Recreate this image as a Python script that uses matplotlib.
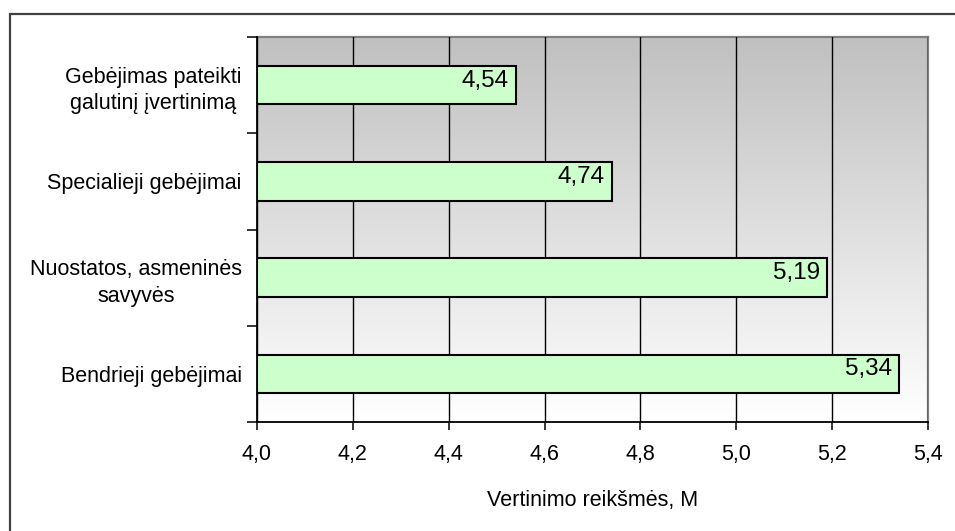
import numpy as np
import matplotlib
matplotlib.use('Agg')
import matplotlib.pyplot as plt
import matplotlib.ticker as mtick
from matplotlib.colors import LinearSegmentedColormap
from matplotlib.patches import Rectangle

plt.rcParams['font.family'] = ['Liberation Sans', 'DejaVu Sans']

# kategorijos is apacios i virsu
categories = ['Bendrieji gebėjimai',
              'Nuostatos, asmeninės\nsavyvės',
              'Specialieji gebėjimai',
              'Gebėjimas pateikti\ngalutinį įvertinimą']
values = [5.34, 5.19, 4.74, 4.54]
x_ticks = [4.0, 4.2, 4.4, 4.6, 4.8, 5.0, 5.2, 5.4]

fig = plt.figure(figsize=(9.55, 5.31), dpi=100)
ax = fig.add_axes([257/955, 1 - 422/531, 671/955, 385/531])

# remelis aplink visa diagrama
fig.patches.append(Rectangle((10/955, -0.1), 1.1, 1.1 - 14/531,
                             transform=fig.transFigure, fill=False,
                             edgecolor='#404040', linewidth=1.6))

# pilkas gradientas fone
grad = np.linspace(0, 1, 256).reshape(-1, 1)
cmap = LinearSegmentedColormap.from_list('fonas', ['#FFFFFF', '#C0C0C0'])
ax.imshow(grad, cmap=cmap, aspect='auto', origin='lower',
          extent=[4.0, 5.4, -0.5, 3.5], zorder=0)

y = np.arange(len(categories))
ax.barh(y, np.array(values) - 4.0, left=4.0, height=0.4, color='#CCFFCC',
        edgecolor='black', linewidth=1.5, zorder=3)

for yi, v in zip(y, values):
    ax.annotate(('%.2f' % v).replace('.', ','), xy=(v, yi), xytext=(-5, -1),
                textcoords='offset points', ha='right', va='baseline',
                fontsize=17.5, zorder=4)

ax.set_xlim(4.0, 5.4)
ax.set_ylim(-0.5, 3.5)
ax.set_xticks(x_ticks)
ax.xaxis.set_major_formatter(mtick.FuncFormatter(lambda x, p: ('%.1f' % x).replace('.', ',')))
ax.grid(axis='x', color='black', linewidth=1.0, zorder=1)
ax.set_axisbelow(False)

# y asies padalos tarp kategoriju
ax.set_yticks(np.arange(-0.5, 4.0, 1.0))
ax.set_yticklabels([])
ax.set_yticks(y, minor=True)
ax.set_yticklabels(categories, minor=True, fontsize=15.5,
                   multialignment='center', linespacing=1.35)
ax.tick_params(axis='y', which='minor', length=0, pad=11)
ax.tick_params(axis='y', which='major', direction='out', length=7, width=1.1)
ax.tick_params(axis='x', direction='out', length=6, width=1.1, labelsize=15.5, pad=10)

ax.set_xlabel('Vertinimo reikšmės, M', fontsize=15.5, labelpad=18)

for s in ['left', 'bottom']:
    ax.spines[s].set_color('black')
    ax.spines[s].set_linewidth(1.3)
for s in ['top', 'right']:
    ax.spines[s].set_color('#808080')
    ax.spines[s].set_linewidth(1.6)
ax.spines['left'].set_zorder(5)

fig.savefig('out.png', dpi=100)
